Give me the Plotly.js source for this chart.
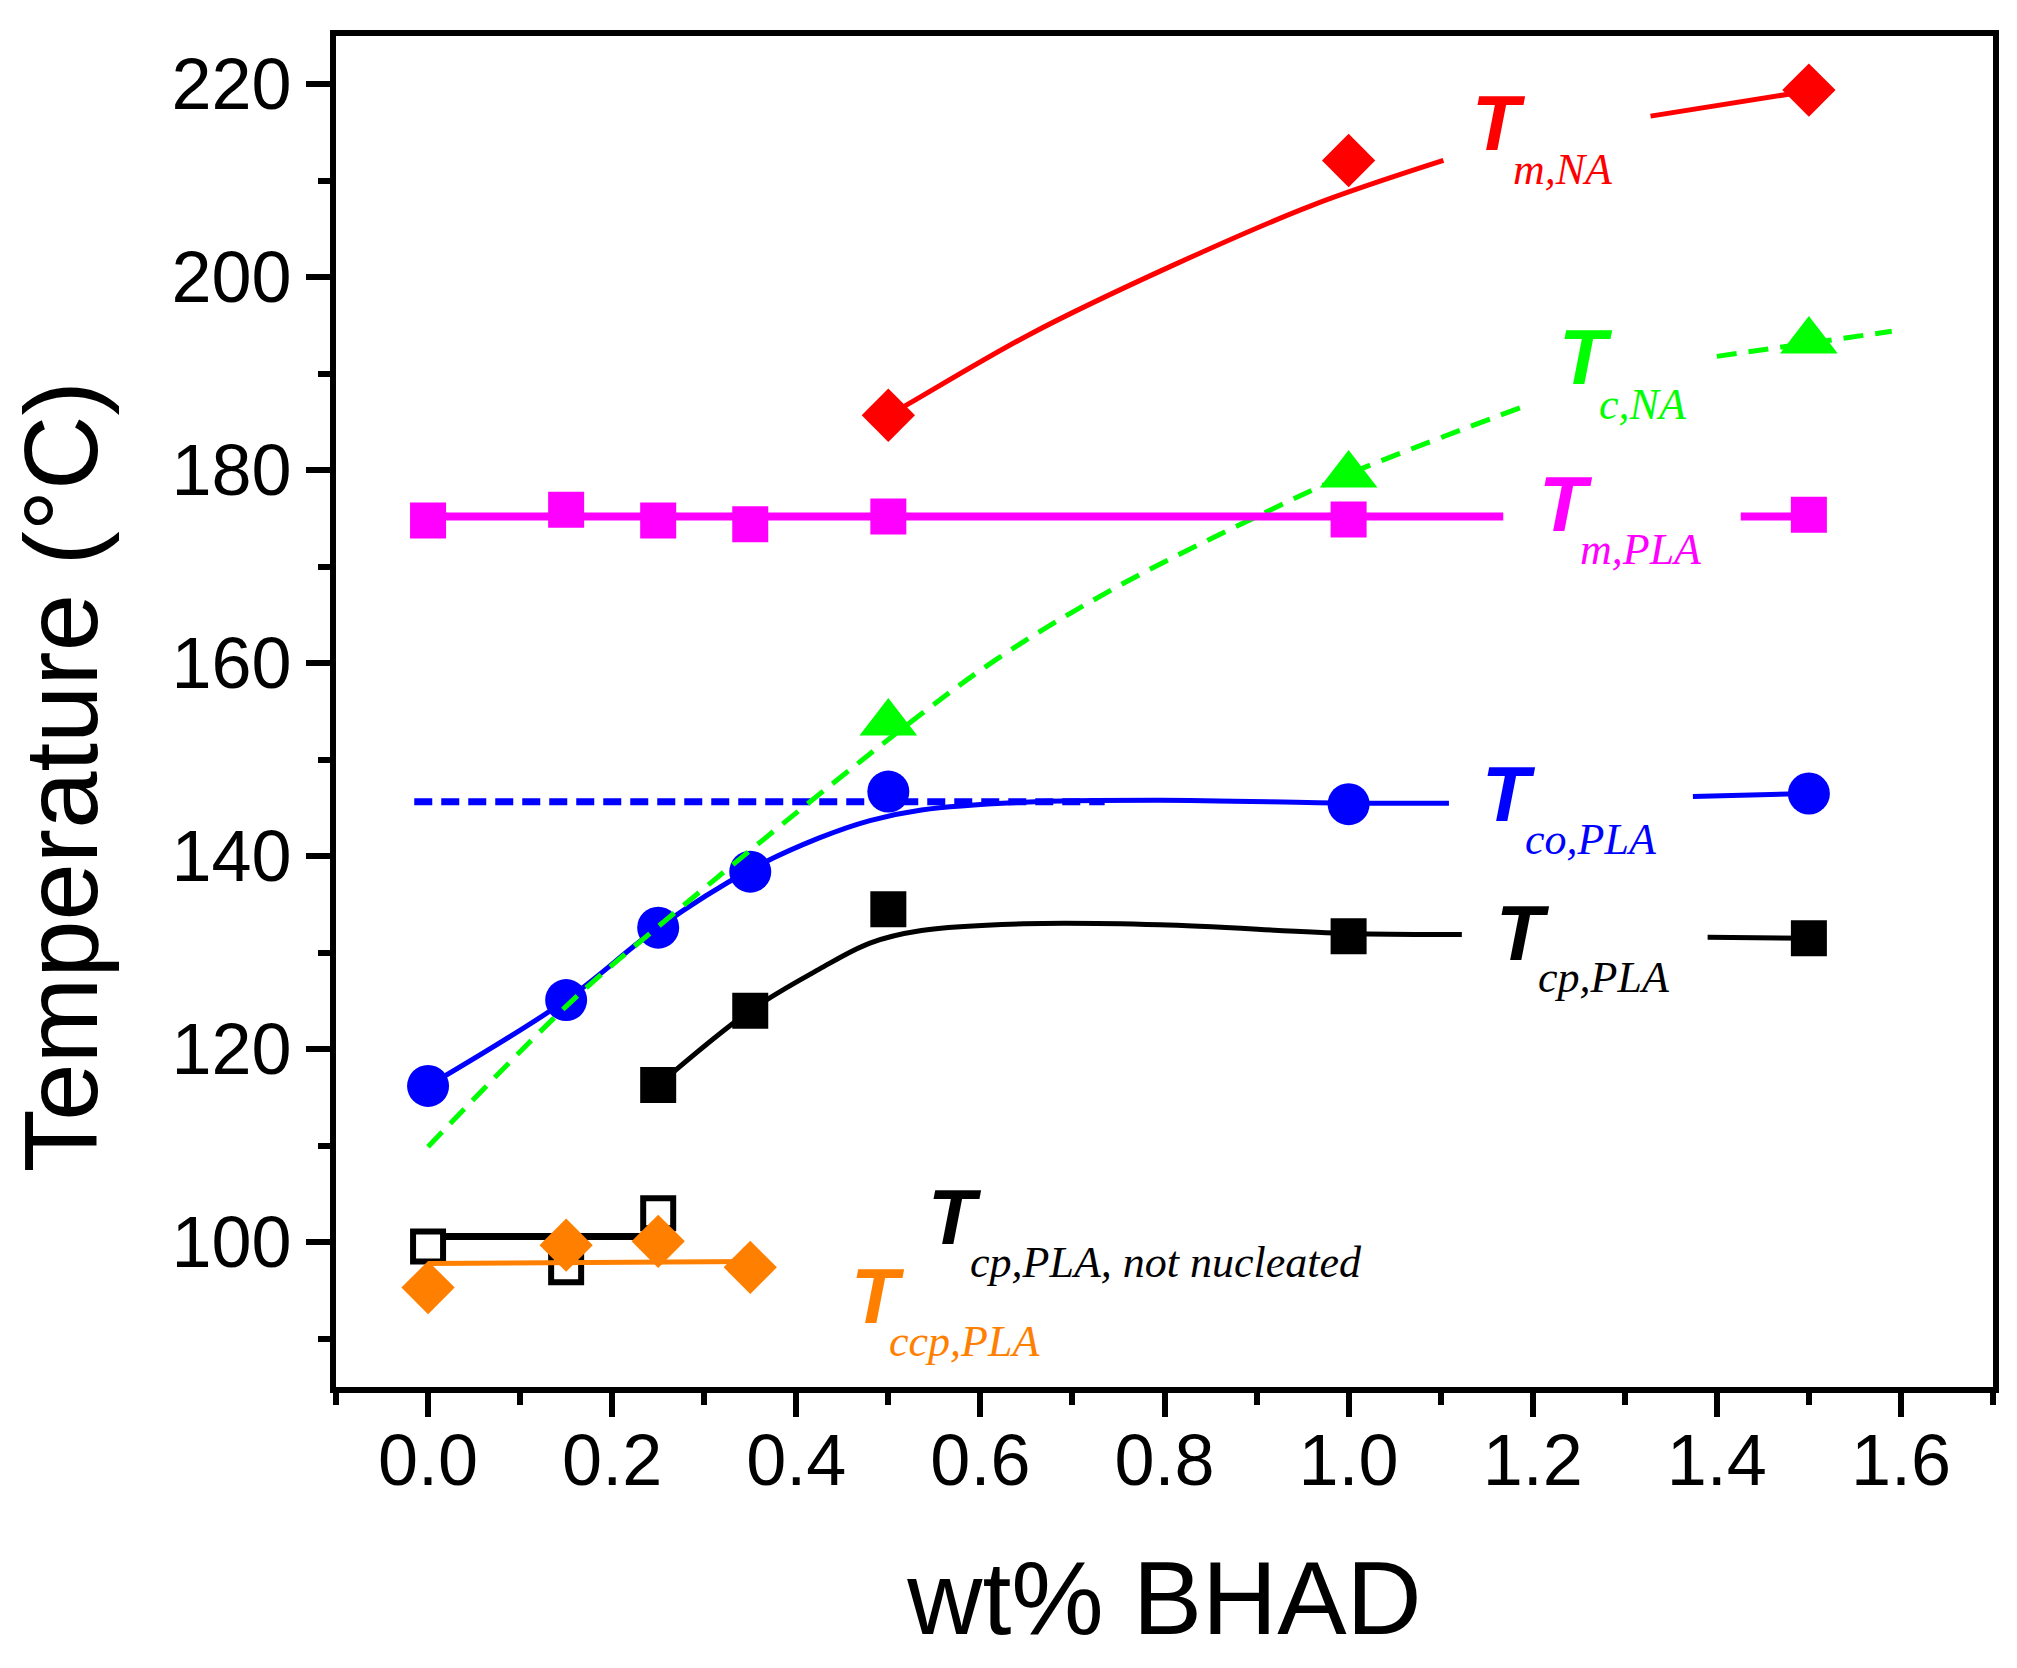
<!DOCTYPE html>
<html>
<head>
<meta charset="utf-8">
<script src="https://cdn.plot.ly/plotly-3.0.1.min.js"></script>
<style>html,body{margin:0;padding:0;background:#fff;}#chart{width:2017px;height:1668px;}</style>
</head>
<body>
<div id="chart"></div>
<script>
// ---------- measured points ----------
const xPLA      = [0, 0.15, 0.25, 0.35, 0.5, 1.0, 1.5];
const TmPLA     = [174.8, 175.9, 174.8, 174.4, 175.2, 174.9, 175.4];
const TcoPLA    = [116.2, 125.1, 132.6, 138.4, 146.7, 145.4, 146.5];
const xCp       = [0.25, 0.35, 0.5, 1.0, 1.5];
const TcpPLA    = [116.3, 124.0, 134.5, 131.7, 131.5];
const xNA       = [0.5, 1.0, 1.5];
const TmNA      = [185.7, 212.1, 219.4];
const TcNA      = [153.8, 179.5, 193.4];
const xNotNuc   = [0, 0.15, 0.25];
const TcpNotNuc = [99.55, 97.4, 103.0];
const xCcp      = [0, 0.15, 0.25, 0.35];
const TccpPLA   = [95.3, 99.7, 100.1, 97.4];

// ---------- guide curves (null = break behind label) ----------
const fitTmNA_x  = [0.5, 0.517, 0.654, 0.806, 0.959, 1.103, null, 1.328, 1.5];
const fitTmNA_y  = [185.7, 186.6, 194.1, 201.1, 207.4, 212.1, null, 216.7, 219.3];
const fitTcNA_x  = [0, 0.154, 0.251, 0.5, 0.619, 0.75, 0.898, 1.0, 1.187, null, 1.40, 1.59];
const fitTcNA_y  = [109.9, 124.8, 132.8, 152.1, 160.5, 168.0, 175.1, 179.6, 186.5, null, 191.8, 194.4];
const fitTmPLA_x = [0, 1.168, null, 1.426, 1.5];
const fitTmPLA_y = [175.2, 175.2, null, 175.2, 175.2];
const fitTco_x   = [0, 0.15, 0.25, 0.35, 0.425, 0.48, 0.536, 0.647, 0.795, 1.0, 1.109, null, 1.374, 1.5];
const fitTco_y   = [116.2, 125.1, 132.6, 138.6, 141.9, 143.7, 144.8, 145.6, 145.8, 145.5, 145.5, null, 146.2, 146.5];
const plateauCo_x = [-0.015, 0.735];
const plateauCo_y = [145.65, 145.65];
const fitTcp_x   = [0.25, 0.35, 0.425, 0.48, 0.536, 0.647, 0.795, 1.0, 1.123, null, 1.39, 1.5];
const fitTcp_y   = [116.3, 124.0, 128.3, 131.0, 132.3, 133.0, 132.9, 132.0, 131.9, null, 131.6, 131.5];
const fitNotNuc_x = [0, 0.25];
const fitNotNuc_y = [100.6, 100.6];
const fitCcp_x   = [0, 0.35];
const fitCcp_y   = [97.8, 98.0];

// ---------- labels ----------
const labelMain = ['T', 'T', 'T', 'T', 'T', 'T', 'T'];
const labelSub  = ['m,NA', 'c,NA', 'm,PLA', 'co,PLA', 'cp,PLA', 'cp,PLA, not nucleated', 'ccp,PLA'];
const labelColor = ['#ff0000', '#00ff00', '#ff00ff', '#0000ff', '#000000', '#000000', '#ff8000'];
const labelTx = [1.134, 1.229, 1.2065, 1.145, 1.160, 0.543, 0.4595];
const labelTy = [216.0, 191.7, 176.5, 146.4, 132.0, 102.6, 94.4];
const labelSx = [1.179, 1.272, 1.2516, 1.192, 1.206, 0.589, 0.5008];
const labelSy = [211.2, 186.8, 171.8, 141.7, 127.4, 97.9, 89.7];

const RED='#ff0000', GREEN='#00ff00', MAG='#ff00ff', BLUE='#0000ff', BLK='#000000', ORG='#ff8000';

function lineTrace(x, y, color, width, dash, shape) {
  return {x: x, y: y, type: 'scatter', mode: 'lines', hoverinfo: 'skip',
          line: {color: color, width: width, dash: dash || 'solid', shape: shape || 'linear', smoothing: 1},
          connectgaps: false};
}
function markTrace(x, y, symbol, size, color, lineColor, lineWidth) {
  return {x: x, y: y, type: 'scatter', mode: 'markers', hoverinfo: 'skip',
          marker: {symbol: symbol, size: size, color: color,
                   line: {color: lineColor || color, width: lineWidth || 0}}};
}

const traces = [
  lineTrace(plateauCo_x, plateauCo_y, BLUE, 7, '18px,9px'),
  lineTrace(fitTco_x, fitTco_y, BLUE, 5, 'solid', 'spline'),
  markTrace(xPLA, TcoPLA, 'circle', 42, BLUE),
  lineTrace(fitTcp_x, fitTcp_y, BLK, 5, 'solid', 'spline'),
  markTrace(xCp, TcpPLA, 'square', 36, BLK),
  lineTrace(fitTcNA_x, fitTcNA_y, GREEN, 5, '20px,12px', 'spline'),
  markTrace(xNA, TcNA, 'triangle-up', 50, GREEN),
  lineTrace(fitTmPLA_x, fitTmPLA_y, MAG, 8),
  markTrace(xPLA, TmPLA, 'square', 36, MAG),
  lineTrace(fitTmNA_x, fitTmNA_y, RED, 5, 'solid', 'spline'),
  markTrace(xNA, TmNA, 'diamond', 41, RED),
  lineTrace(fitNotNuc_x, fitNotNuc_y, BLK, 7),
  markTrace(xNotNuc, TcpNotNuc, 'square', 30, '#ffffff', BLK, 6),
  lineTrace(fitCcp_x, fitCcp_y, ORG, 5),
  markTrace(xCcp, TccpPLA, 'diamond', 41, ORG)
];

const annotations = [];
for (let i = 0; i < labelMain.length; i++) {
  annotations.push({x: labelTx[i], y: labelTy[i], xref: 'x', yref: 'y', xanchor: 'left', yanchor: 'middle',
    showarrow: false, borderpad: 0, borderwidth: 0, text: '<b><i>' + labelMain[i] + '</i></b>',
    font: {family: 'Liberation Sans, Arial, sans-serif', size: 78, color: labelColor[i]}});
  annotations.push({x: labelSx[i], y: labelSy[i], xref: 'x', yref: 'y', xanchor: 'left', yanchor: 'middle',
    showarrow: false, borderpad: 0, borderwidth: 0, text: '<i>' + labelSub[i] + '</i>',
    font: {family: 'Liberation Serif, Times New Roman, serif', size: 44, color: labelColor[i]}});
}
annotations.push({x: -0.166, y: 0.452, xref: 'paper', yref: 'paper', xanchor: 'center', yanchor: 'middle',
  showarrow: false, textangle: -90, text: 'Temperature (°C)',
  font: {family: 'Liberation Sans, Arial, sans-serif', size: 103, color: '#000'}});

const axisCommon = {
  showgrid: false, zeroline: false, showline: true, linewidth: 6, linecolor: '#000', mirror: true,
  ticks: 'outside', ticklen: 24, tickwidth: 6, tickcolor: '#000',
  tickfont: {family: 'Liberation Sans, Arial, sans-serif', size: 72, color: '#000'}
};

const layout = {
  width: 2017, height: 1668,
  margin: {l: 336, r: 24, t: 36, b: 281},
  paper_bgcolor: '#fff', plot_bgcolor: '#fff',
  showlegend: false, hovermode: false,
  font: {family: 'Liberation Sans, Arial, sans-serif', color: '#000'},
  xaxis: Object.assign({}, axisCommon, {
    range: [-0.1, 1.7], tick0: 0, dtick: 0.2, tickformat: '.1f', ticklabelstandoff: -18,
    minor: {tick0: 0, dtick: 0.1, ticks: 'outside', ticklen: 12, tickwidth: 6, tickcolor: '#000', showgrid: false},
    title: {text: 'wt% BHAD', standoff: 64, font: {family: 'Liberation Sans, Arial, sans-serif', size: 104, color: '#000'}}
  }),
  yaxis: Object.assign({}, axisCommon, {
    range: [85, 225], tick0: 0, dtick: 20,
    minor: {tick0: 0, dtick: 10, ticks: 'outside', ticklen: 12, tickwidth: 6, tickcolor: '#000', showgrid: false},
    title: {text: ''}
  }),
  annotations: annotations
};

Plotly.newPlot('chart', traces, layout, {displayModeBar: false, staticPlot: true});
</script>
</body>
</html>
